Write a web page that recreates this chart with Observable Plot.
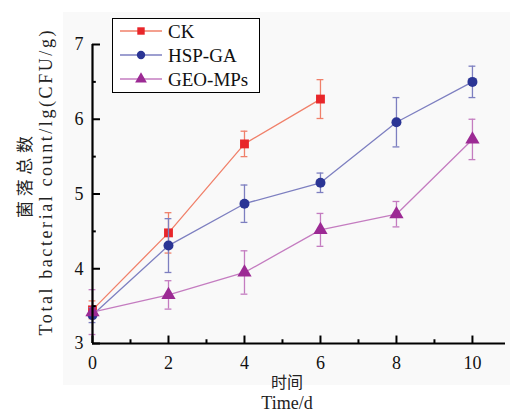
<!DOCTYPE html>
<html>
<head>
<meta charset="utf-8">
<script src="https://cdn.jsdelivr.net/npm/d3@7"></script>
<script src="https://cdn.jsdelivr.net/npm/@observablehq/plot@0.6"></script>
<style>
body { margin: 0; background: #fff; }
</style>
</head>
<body>
<div id="chart"></div>
<script>
const days = [0, 2, 4, 6, 8, 10];
const seriesNames = ["CK", "HSP-GA", "GEO-MPs"];
const ckValues = [3.45, 4.48, 5.67, 6.27];
const ckErrors = [0.12, 0.27, 0.17, 0.26];
const hspValues = [3.38, 4.31, 4.87, 5.15, 5.96, 6.50];
const hspErrors = [0.10, 0.36, 0.25, 0.13, 0.33, 0.21];
const geoValues = [3.42, 3.65, 3.95, 4.52, 4.73, 5.73];
const geoErrors = [0.30, 0.19, 0.29, 0.22, 0.17, 0.27];
const xTicks = [0, 2, 4, 6, 8, 10];
const xMinorTicks = [1, 3, 5, 7, 9];
const yTicks = [3, 4, 5, 6, 7];
const yMinorTicks = [3.5, 4.5, 5.5, 6.5];

const markerColors = {"CK": "#e8262a", "HSP-GA": "#2b3595", "GEO-MPs": "#9c2a94"};
const lineColors = {"CK": "#f0806a", "HSP-GA": "#7d7fc0", "GEO-MPs": "#c47cc0"};
const symbols = {"CK": "square", "HSP-GA": "circle", "GEO-MPs": "triangle"};

function rows(name, vals, errs) {
  return vals.map((v, i) => ({series: name, t: days[i], v, e: errs[i]}));
}
const data = [
  ...rows("CK", ckValues, ckErrors),
  ...rows("HSP-GA", hspValues, hspErrors),
  ...rows("GEO-MPs", geoValues, geoErrors)
];

const capHalf = 0.09;
const marks = [];
for (const name of seriesNames) {
  const d = data.filter(r => r.series === name);
  marks.push(Plot.ruleX(d, {x: "t", y1: r => r.v - r.e, y2: r => r.v + r.e, stroke: lineColors[name], strokeWidth: 1.3}));
  marks.push(Plot.ruleY(d, {y: r => r.v + r.e, x1: r => r.t - capHalf, x2: r => r.t + capHalf, stroke: lineColors[name], strokeWidth: 1.3}));
  marks.push(Plot.ruleY(d, {y: r => r.v - r.e, x1: r => r.t - capHalf, x2: r => r.t + capHalf, stroke: lineColors[name], strokeWidth: 1.3}));
  marks.push(Plot.line(d, {x: "t", y: "v", stroke: lineColors[name], strokeWidth: 1.3}));
  marks.push(Plot.dot(d, {x: "t", y: "v", symbol: () => symbols[name], fill: markerColors[name], stroke: "none",
    r: name === "GEO-MPs" ? 5.3 : 5}));
}

const xMax = 10.87;
const chart = Plot.plot({
  width: 515,
  height: 415,
  marginLeft: 92,
  marginRight: 10,
  marginTop: 44,
  marginBottom: 72,
  x: {domain: [0, xMax]},
  y: {domain: [3, 7]},
  style: {fontFamily: "'Liberation Serif', serif", fontSize: "18px", background: "transparent", color: "#111"},
  marks: [
    ...marks,
    Plot.ruleY([3], {x1: 0, x2: xMax, stroke: "#000", strokeWidth: 2.2}),
    Plot.ruleX([0], {y1: 3, y2: 7, stroke: "#000", strokeWidth: 2.2}),
    Plot.ruleX(xTicks, {x: d => d, y1: 3, y2: 3.1, stroke: "#000", strokeWidth: 2}),
    Plot.ruleX(xMinorTicks, {x: d => d, y1: 3, y2: 3.05, stroke: "#000", strokeWidth: 2}),
    Plot.ruleY(yTicks, {y: d => d, x1: 0, x2: 0.21, stroke: "#000", strokeWidth: 2}),
    Plot.ruleY(yMinorTicks, {y: d => d, x1: 0, x2: 0.1, stroke: "#000", strokeWidth: 2}),
    Plot.axisX({ticks: xTicks, tickSize: 0, tickPadding: 13, label: null, fontSize: 18, tickFormat: d => String(d)}),
    Plot.axisY({ticks: yTicks, tickSize: 0, tickPadding: 9, label: null, fontSize: 18, tickFormat: d => String(d)})
  ]
});

const svg = d3.select(chart);
svg.insert("rect", ":first-child")
  .attr("x", 63).attr("y", 12).attr("width", 447).attr("height", 373)
  .attr("fill", "#f9f9f9");

// axis titles
svg.append("text").attr("x", 287).attr("y", 388).attr("text-anchor", "middle")
  .attr("font-family", "'Noto Sans CJK SC'").attr("font-size", 16).attr("fill", "#222").text("时间");
svg.append("text").attr("x", 287).attr("y", 409).attr("text-anchor", "middle")
  .attr("font-family", "'Liberation Serif', serif").attr("font-size", 18).attr("fill", "#222").text("Time/d");
svg.append("text").attr("transform", "translate(31,177) rotate(-90)").attr("text-anchor", "middle")
  .attr("font-family", "'Noto Sans CJK SC'").attr("font-size", 17).attr("fill", "#222")
  .attr("textLength", 82).attr("lengthAdjust", "spacing").text("菌落总数");
svg.append("text").attr("transform", "translate(52,183) rotate(-90)").attr("text-anchor", "middle")
  .attr("font-family", "'Liberation Serif', serif").attr("font-size", 18).attr("fill", "#222")
  .attr("textLength", 305).attr("lengthAdjust", "spacing").text("Total bacterial count/lg(CFU/g)");

// legend
const lg = svg.append("g");
lg.append("rect").attr("x", 112.5).attr("y", 18.5).attr("width", 147).attr("height", 74)
  .attr("fill", "#fff").attr("stroke", "#000").attr("stroke-width", 1);
seriesNames.forEach((name, i) => {
  const y = 31 + i * 24;
  lg.append("line").attr("x1", 120).attr("x2", 162).attr("y1", y).attr("y2", y)
    .attr("stroke", lineColors[name]).attr("stroke-width", 1.3);
  const sym = d3.symbol().type(name === "CK" ? d3.symbolSquare : (name === "HSP-GA" ? d3.symbolCircle : d3.symbolTriangle))
    .size(name === "GEO-MPs" ? 60 : 55);
  lg.append("path").attr("d", sym()).attr("transform", `translate(141,${y})`).attr("fill", markerColors[name]);
  lg.append("text").attr("x", 168).attr("y", y + 6.5).attr("text-anchor", "start")
    .attr("font-family", "'Liberation Serif', serif").attr("font-size", 19).attr("fill", "#111").text(name);
});

document.getElementById("chart").appendChild(chart);
</script>
</body>
</html>
